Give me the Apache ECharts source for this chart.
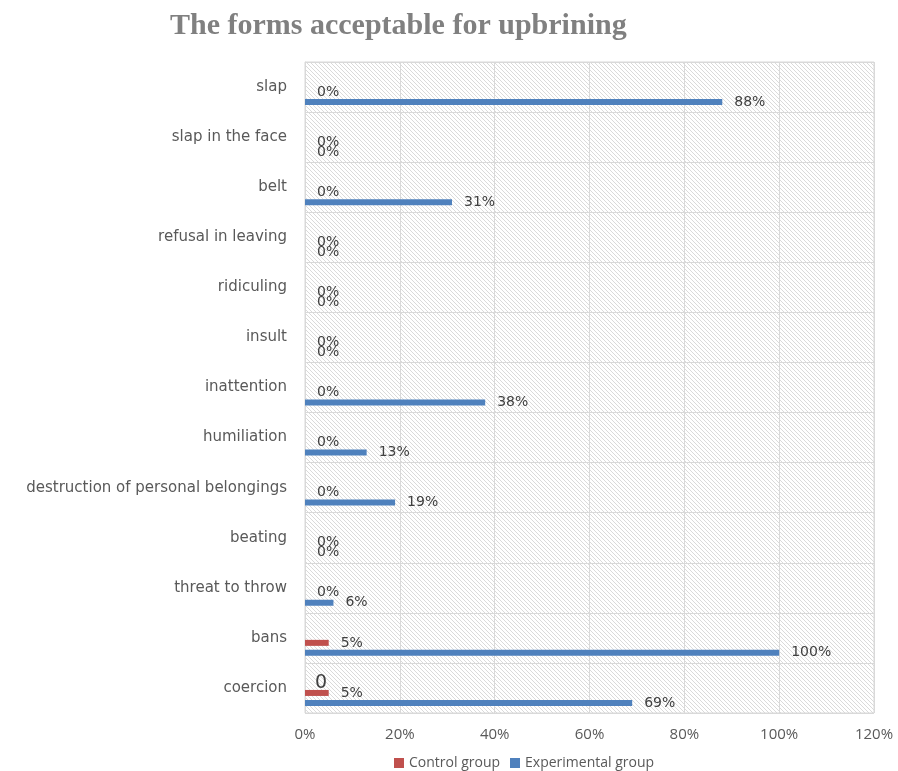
<!DOCTYPE html>
<html><head><meta charset="utf-8">
<script src="https://cdn.jsdelivr.net/npm/echarts@6/dist/echarts.min.js"></script>
<style>html,body{margin:0;padding:0;background:#fff}#c{width:898px;height:771px}</style>
</head><body><div id="c"></div>
<script>
const categories = ['coercion','bans','threat to throw','beating','destruction of personal belongings','humiliation','inattention','insult','ridiculing','refusal in leaving','belt','slap in the face','slap'];
const controlGroup = [5,5,0,0,0,0,0,0,0,0,0,0,0];
const experimentalGroup = [69,100,6,0,19,13,38,0,0,0,31,0,88];
const extraLabels = [0,null,null,null,null,null,null,null,null,null,null,null,null];
const xTicks = [0,20,40,60,80,100,120];

const pc = document.createElement('canvas');
pc.width = 4; pc.height = 4;
const g = pc.getContext('2d');
g.fillStyle = '#ffffff'; g.fillRect(0,0,4,4);
g.fillStyle = '#dadada';
for (let i=0;i<4;i++){ g.fillRect(i,i,1,1); }

const chart = echarts.init(document.getElementById('c'), null, {renderer:'canvas'});
const lblFont = '"Open Sans", Lato, sans-serif';
chart.setOption({
  animation:false,
  backgroundColor:'#ffffff',
  title:{text:'The forms acceptable for upbrining', left:165, top:6,
    textStyle:{fontFamily:'"Liberation Serif", serif', fontWeight:'bold', fontSize:30, color:'#808080'}},
  grid:{left:305, right:24, top:62, bottom:58, show:true,
    backgroundColor:{image:pc, repeat:'repeat'}, borderColor:'#d9d9d9', borderWidth:1},
  legend:{data:['Control group','Experimental group'], top:756, left:394, padding:0, itemWidth:10, itemHeight:10, itemGap:10,
    icon:'rect', textStyle:{fontFamily:lblFont, fontSize:14, color:'#595959'}},
  xAxis:{type:'value', min:0, max:120, interval:20,
    axisLabel:{formatter:v=>v+'%', fontFamily:lblFont, fontSize:15, color:'#595959', margin:14},
    axisLine:{show:false}, axisTick:{show:false},
    splitLine:{lineStyle:{color:'#d9d9d9'}}},
  yAxis:{type:'category', data:categories,
    axisLabel:{fontFamily:'"DejaVu Sans", sans-serif', fontSize:15, color:'#595959', margin:18, verticalAlign:'middle', lineHeight:14},
    axisLine:{lineStyle:{color:'#d9d9d9'}}, axisTick:{show:false},
    splitLine:{show:true, lineStyle:{color:'#d9d9d9'}}},
  series:[
    {name:'d1', type:'bar', data:categories.map(()=>null), barWidth:6, barGap:'66%', silent:true},
    {name:'d2', type:'bar', data:extraLabels, barWidth:6, barGap:'66%', silent:true,
      itemStyle:{color:'rgba(0,0,0,0)'},
      label:{show:true, position:'right', distance:10, formatter:p=>p.value==null?'':String(p.value),
        fontFamily:'"DejaVu Sans", sans-serif', fontSize:19, color:'#404040'}},
    {name:'Control group', type:'bar', data:controlGroup, barWidth:6, barGap:'66%', itemStyle:{color:'#C0504D'},
      label:{show:true, position:'right', distance:12, formatter:'{c}%', fontFamily:'"DejaVu Sans", sans-serif', fontSize:14, color:'#404040'}},
    {name:'Experimental group', type:'bar', data:experimentalGroup, barWidth:6, barGap:'66%', itemStyle:{color:'#4F81BD'},
      label:{show:true, position:'right', distance:12, formatter:'{c}%', fontFamily:'"DejaVu Sans", sans-serif', fontSize:14, color:'#404040'}}
  ]
});
</script></body></html>
